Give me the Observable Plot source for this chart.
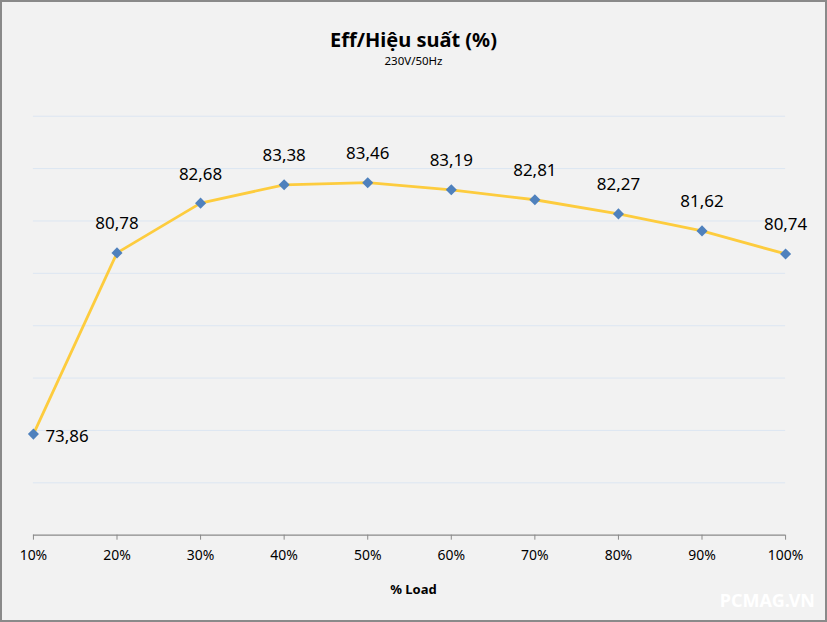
<!DOCTYPE html>
<html>
<head>
<meta charset="utf-8">
<script src="https://cdn.jsdelivr.net/npm/d3@7"></script>
<script src="https://cdn.jsdelivr.net/npm/@observablehq/plot@0.6"></script>
<style>
  html, body { margin: 0; padding: 0; background: #f2f2f2; }
  #wrap { position: relative; width: 827px; height: 622px; box-sizing: border-box; border: 2px solid #8a8a8a; background: #f2f2f2; overflow: hidden; font-family: "Noto Sans", sans-serif; }
  #chart { position: absolute; left: -2px; top: -2px; }
  .title { position: absolute; left: 0; width: 823px; text-align: center; color: #000; }
  #t1 { top: 24px; font-size: 20px; font-weight: bold; }
  #t2 { top: 51px; font-size: 11.5px; }
  #xl { top: 578px; font-size: 13px; font-weight: bold; }
  #wm { position: absolute; right: 10px; top: 586px; color: #fff; font-weight: bold; font-size: 18px; letter-spacing: 0; }
</style>
</head>
<body>
<div id="wrap">
  <div id="chart"></div>
  <div class="title" id="t1">Eff/Hiệu suất (%)</div>
  <div class="title" id="t2">230V/50Hz</div>
  <div class="title" id="xl">% Load</div>
  <div id="wm">PCMAG.VN</div>
</div>
<script>
const loads = [10, 20, 30, 40, 50, 60, 70, 80, 90, 100];
const efficiency = [73.86, 80.78, 82.68, 83.38, 83.46, 83.19, 82.81, 82.27, 81.62, 80.74];
const gridValues = [72, 74, 76, 78, 80, 82, 84, 86];

const data = loads.map((l, i) => ({load: l, eff: efficiency[i]}));
const fmt = v => v.toFixed(2).replace(".", ",");

const chart = Plot.plot({
  width: 827,
  height: 622,
  marginLeft: 33,
  marginRight: 40,
  marginTop: 116,
  marginBottom: 86,
  style: {background: "transparent", fontFamily: "Noto Sans, sans-serif"},
  x: {type: "linear", domain: [10, 100]},
  y: {domain: [70, 86], axis: null},
  marks: [
    Plot.ruleY(gridValues, {x1: 10, x2: 100, stroke: "#dce6f2", strokeWidth: 1}),
    Plot.ruleY([70], {x1: 10, x2: 100, stroke: "#8a8a8a", strokeWidth: 1.2}),
    Plot.axisX({ticks: loads, tickFormat: d => d + "%", tickSize: 5, tickPadding: 10, stroke: "#8a8a8a", fill: "#000", fontSize: 14, label: null}),
    Plot.line(data, {x: "load", y: "eff", stroke: "#fdcc3e", strokeWidth: 2.8}),
    Plot.dot(data, {x: "load", y: "eff", symbol: "diamond2", r: 5, fill: "#4f81bd", stroke: "none"}),
    Plot.text(data.slice(1), {x: "load", y: "eff", text: d => fmt(d.eff), dy: -29, fontSize: 17, fill: "#000"}),
    Plot.text(data.slice(0, 1), {x: "load", y: "eff", text: d => fmt(d.eff), dx: 12, dy: 2, textAnchor: "start", fontSize: 17, fill: "#000"})
  ]
});
document.getElementById("chart").appendChild(chart);
</script>
</body>
</html>
